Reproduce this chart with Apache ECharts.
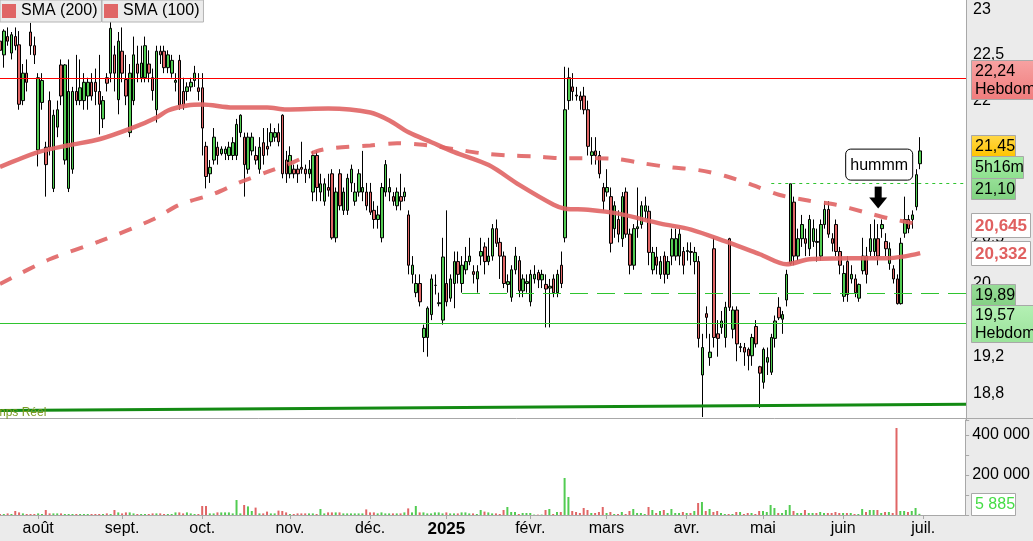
<!DOCTYPE html>
<html><head><meta charset="utf-8">
<script src="https://cdn.jsdelivr.net/npm/echarts@6/dist/echarts.min.js"></script>
<style>html,body{margin:0;padding:0;background:#ebebeb}#c{width:1033px;height:541px}</style>
</head><body><div id="c"></div>
<script>
const FONT = '"Liberation Sans", Arial, sans-serif';

// ---------- categories (trading days) ----------
const holidays = ['2024-12-25','2024-12-26','2025-01-01','2025-04-18','2025-04-21','2025-05-01'];
const slotCount = 254;
const categories = [];
(function(){
  const d = new Date(Date.UTC(2024, 6, 18));
  while (categories.length < slotCount) {
    const wd = d.getUTCDay(), s = d.toISOString().slice(0, 10);
    if (wd !== 0 && wd !== 6 && holidays.indexOf(s) < 0) categories.push(s);
    d.setUTCDate(d.getUTCDate() + 1);
  }
})();
const monthNames = ['janv.','févr.','mars','avr.','mai','juin','juil.','août','sept.','oct.','nov.','déc.'];

// ---------- data: [open, close, low, high] ----------
const ohlc = [
[22.65,22.55,22.5,22.7],[22.5,22.76,22.36,22.78],[22.7,22.65,22.6,22.8],[22.52,22.72,22.45,22.75],[22.7,22.6,22.55,22.8],
[22.61,21.96,21.9,22.76],[22.0,22.3,21.95,22.4],[22.3,22.2,22.1,22.45],[22.75,22.6,22.5,22.85],[22.6,22.5,22.4,22.7],
[21.46,22.25,21.28,22.3],[21.98,22.22,21.9,22.3],[21.49,21.3,20.95,21.55],[22.0,21.49,21.4,22.1],[21.04,21.84,21.0,21.9],
[21.71,21.9,21.6,22.0],[22.39,22.05,21.95,22.45],[21.35,22.39,21.3,22.4],[21.04,22.1,21.0,22.45],[21.25,22.1,21.2,22.15],
[22.1,22.0,21.95,22.5],[22.0,22.14,21.95,22.45],[22.0,22.2,21.9,22.3],[22.05,22.2,21.9,22.25],[22.2,22.05,22.0,22.3],
[22.2,22.1,21.95,22.35],[22.1,21.96,21.63,22.5],[21.8,22.0,21.7,22.05],[22.25,22.19,22.1,22.3],[22.3,22.79,22.2,23.06],
[22.5,22.3,22.1,22.6],[22.01,22.65,21.85,22.75],
[22.54,22.3,22.2,22.8],[22.23,22.05,21.95,22.5],[21.65,22.3,21.6,22.4],[22.0,22.5,21.95,22.7],[22.4,22.3,22.2,22.6],
[22.25,22.41,22.2,22.6],[22.25,22.6,22.2,22.7],[22.4,22.3,22.2,22.55],[22.25,22.11,22.0,22.35],[21.9,22.54,21.76,22.6],
[22.54,22.5,22.4,22.6],[22.54,22.36,22.3,22.6],[22.36,22.5,22.3,22.55],[22.3,22.44,22.25,22.5],[22.2,22.22,22.1,22.3],
[22.44,21.95,21.9,22.5],[22.1,21.95,21.9,22.25],[22.1,22.15,22.0,22.2],[22.15,22.2,22.1,22.25],[22.22,22.3,22.15,22.38],
[22.14,22.1,22.0,22.3],
[22.14,21.7,21.4,22.3],[21.5,21.17,21.04,21.55],[21.2,21.27,21.1,21.35],[21.35,21.6,21.3,21.7],[21.49,21.4,21.3,21.55],
[21.42,21.47,21.4,21.5],[21.42,21.47,21.35,21.5],[21.4,21.49,21.35,21.55],[21.4,21.54,21.35,21.6],[21.4,21.74,21.35,21.8],
[21.65,21.84,21.6,21.85],[21.6,21.3,20.95,21.65],[21.25,21.6,21.2,21.65],[21.45,21.6,21.4,21.65],[21.4,21.35,21.3,21.5],
[21.25,21.49,21.2,21.6],[21.54,21.4,21.3,21.7],[21.5,21.47,21.4,21.7],[21.55,21.65,21.5,21.75],[21.6,21.65,21.55,21.7],
[21.65,21.55,21.5,21.75],[21.84,21.2,21.15,21.85],[21.35,21.2,21.1,21.45],
[21.2,21.4,21.15,21.5],[21.25,21.2,21.15,21.3],[21.25,21.2,21.1,21.3],[21.27,21.25,21.2,21.55],[21.25,21.2,21.1,21.3],
[21.2,21.25,21.15,21.35],[21.0,21.4,20.9,21.45],[21.4,21.05,20.9,21.45],[21.0,21.09,20.9,21.2],[20.9,21.09,20.85,21.15],
[21.05,21.02,20.95,21.2],[21.2,20.5,20.48,21.25],[20.5,21.0,20.45,21.05],[21.2,20.85,20.8,21.25],[20.8,21.0,20.75,21.05],
[20.8,21.15,20.75,21.2],[21.1,21.25,21.0,21.3],[20.9,21.0,20.85,21.1],[21.0,21.2,20.95,21.25],[21.0,21.05,20.9,21.45],
[21.0,20.85,20.8,21.1],
[21.0,20.78,20.75,21.1],[20.8,20.7,20.6,20.9],[20.7,20.75,20.6,20.85],[20.5,21.05,20.45,21.1],[21.0,21.3,20.95,21.35],
[21.0,21.05,20.9,21.15],[20.95,20.9,20.85,21.0],[20.85,21.0,20.8,21.05],[20.95,20.9,20.8,21.2],[20.95,21.0,20.9,21.05],
[20.75,20.2,20.1,20.8],[20.1,20.2,20.0,20.3],[19.9,20.0,19.85,20.1],[20.0,19.8,19.75,20.1],[19.41,19.51,19.25,19.55],
[19.41,19.73,19.2,19.75],[19.66,20.05,19.6,20.1],[19.98,19.98,19.88,20.1],[19.78,19.79,19.75,19.9],[19.6,20.29,19.55,20.5],
[20.0,19.8,19.75,20.8],[19.84,20.05,19.8,20.1],[20.0,20.24,19.73,20.35],[20.24,20.1,20.0,20.35],[20.0,20.2,19.9,20.3],
[20.15,20.24,20.1,20.4],[20.24,20.3,20.2,20.5],[20.13,20.1,20.0,20.2],[20.05,20.13,19.9,20.2],[20.3,20.35,20.2,20.5],
[20.4,20.24,20.1,20.45],[20.24,20.3,20.2,20.5],[20.3,20.6,20.25,20.65],[20.6,20.44,20.4,20.7],[20.45,20.3,20.05,20.5],
[20.3,20.0,19.95,20.35],[19.99,20.02,19.9,20.1],[19.85,20.15,19.8,20.2],[20.15,20.3,20.1,20.4],[20.25,19.92,19.85,20.3],
[19.92,20.05,19.85,20.1],[20.0,20.02,19.9,20.1],
[19.8,20.1,19.75,20.15],[20.05,20.1,20.0,20.2],[20.12,20.04,19.95,20.15],[20.04,20.1,19.95,20.15],[19.99,19.94,19.52,20.1],
[19.95,19.97,19.52,20.05],[20.05,19.9,19.85,20.1],[19.9,20.1,19.85,20.15],[20.2,20.0,19.95,20.35],[20.5,21.9,20.45,22.37],
[22.0,22.25,21.9,22.36],[22.15,22.1,22.0,22.3],[22.06,22.05,22.0,22.15],[22.05,22.0,21.9,22.1],[22.05,21.9,21.85,22.15],
[21.9,21.5,21.4,22.0],[21.4,21.44,21.3,21.6],[21.45,21.4,21.3,21.6],[21.4,21.2,21.15,21.45],[21.05,20.9,20.8,21.1],
[21.0,21.05,20.95,21.25],[20.95,20.44,20.34,21.05],[20.6,20.85,20.5,20.9],[20.7,20.54,20.45,20.8],[20.49,20.95,20.4,21.0],
[21.0,20.54,20.5,21.05],[20.54,20.2,20.1,20.6],[20.2,20.6,20.15,20.65],[20.6,20.62,20.5,21.05],[20.645,20.85,20.6,20.9],
[20.79,20.85,20.7,20.95],[20.79,20.34,20.2,20.85],[20.15,20.34,20.1,20.4],[20.29,20.2,20.1,20.4],[20.1,20.24,20.05,20.3],
[20.3,20.1,20.0,20.35],[20.1,20.24,20.05,20.3],[20.3,20.49,20.2,20.6],[20.3,20.49,20.25,20.6],[20.3,20.54,20.2,20.6],
[20.35,20.2,20.1,20.4],[20.35,20.36,20.25,20.45],[20.35,20.34,20.2,20.45],[20.24,20.34,20.1,20.4],[20.24,19.4,19.3,20.3],
[19.0,19.3,18.54,19.45],[19.67,19.63,19.4,19.75],[19.19,19.25,19.1,19.45],[20.38,19.41,19.3,20.5],[19.45,19.4,19.2,19.6],
[19.52,19.59,19.45,19.7],[19.41,19.74,19.3,19.8],[20.49,19.74,19.7,20.5],[19.5,19.71,19.4,19.75],[19.71,19.34,19.15,19.75],
[19.3,19.31,19.25,19.35],[19.3,19.25,19.1,19.35],[19.28,19.21,19.05,19.3],[19.21,19.41,19.1,19.45],[19.53,19.34,19.3,19.6],
[19.09,19.02,18.64,19.1],[18.92,19.28,18.85,19.3],[19.14,19.19,19.0,19.3],[19.03,19.41,19.0,19.45],[19.4,19.59,19.3,19.65],
[19.74,19.625,19.6,19.85],[19.61,19.66,19.45,19.7],[19.82,20.1,19.75,20.15],[20.22,21.09,20.2,21.09],[20.89,20.3,20.2,20.95],
[20.3,20.49,20.25,20.6],[20.49,20.645,20.4,20.75],[20.49,20.44,20.3,20.6],[20.38,20.7,20.3,20.75],[20.46,20.6,20.4,20.7],
[20.46,20.45,20.24,20.6],[20.3,20.645,20.25,20.7],[20.645,20.81,20.6,20.9],[20.81,20.54,20.5,20.9],[20.49,20.44,20.35,20.55],
[20.645,20.35,20.3,20.7],[20.35,20.2,20.1,20.4],[19.86,20.11,19.8,20.2],[20.24,19.88,19.8,20.3],[20.05,20.1,20.0,20.2],
[20.05,19.9,19.85,20.1],[19.84,19.99,19.8,20.0],[20.14,20.3,20.1,20.5],[20.3,20.1,20.0,20.4],[20.35,20.49,20.3,20.65],
[20.35,20.49,20.3,20.7],[20.49,20.3,20.2,20.65],[20.6,20.645,20.5,20.7],[20.46,20.38,20.3,20.55],[20.22,20.38,20.15,20.45],
[20.16,20.05,20.0,20.2],[20.05,19.78,19.77,20.1],[19.78,20.44,19.77,20.5],[20.55,20.7,20.5,20.95],[20.7,20.6,20.55,20.75],
[20.7,20.75,20.6,20.8],[20.84,21.19,20.8,21.25],[21.31,21.45,21.25,21.6]
];

const volume = [
5000,5000,8000,5000,20000,13000,8000,5000,5000,5000,
8000,5000,25000,8000,8000,8000,8000,5000,5000,5000,
5000,5000,5000,5000,5000,5000,5000,5000,8000,5000,
25000,13000,8000,13000,13000,8000,5000,5000,5000,5000,
8000,8000,8000,5000,5000,5000,13000,13000,8000,13000,
8000,5000,5000,45000,45000,8000,8000,13000,13000,13000,
13000,8000,75000,8000,50000,43000,20000,37000,8000,8000,
17000,8000,8000,22000,20000,13000,5000,5000,8000,8000,
8000,8000,8000,5000,30000,8000,13000,13000,13000,13000,
8000,8000,8000,8000,8000,8000,28000,13000,13000,8000,
13000,8000,8000,8000,8000,8000,13000,33000,13000,45000,
13000,13000,8000,8000,13000,13000,8000,13000,8000,8000,
8000,13000,13000,8000,8000,5000,25000,17000,13000,8000,
8000,5000,25000,40000,15000,15000,5000,10000,10000,10000,
2000,2000,2000,25000,30000,5000,15000,15000,185000,90000,
20000,15000,10000,35000,25000,10000,10000,15000,40000,10000,
15000,5000,5000,15000,5000,20000,30000,10000,10000,5000,
40000,25000,10000,20000,25000,10000,30000,10000,10000,15000,
10000,10000,20000,60000,65000,20000,30000,15000,20000,10000,
5000,5000,5000,15000,15000,5000,10000,10000,5000,20000,
20000,15000,50000,35000,10000,10000,25000,50000,20000,10000,
10000,25000,10000,10000,10000,15000,10000,10000,10000,15000,
10000,10000,10000,10000,5000,5000,30000,15000,25000,25000,
25000,10000,15000,15000,10000,435000,20000,20000,15000,20000,
35000,5885
];

// moving averages: [day index, value]
const smaFast = [[0,21.274],[10,21.436],[18,21.512],[26,21.577],[35,21.707],[41,21.816],[44,21.892],[49,21.946],[53,21.957],
[61,21.924],[70,21.924],[75,21.903],[86,21.913],[97,21.87],[102,21.783],[107,21.653],[113,21.545],[119,21.436],[128,21.295],
[136,21.078],[145,20.861],[148,20.818],[154,20.807],[162,20.764],[173,20.655],[181,20.59],[190,20.46],[199,20.32],[206,20.21],
[212,20.265],[223,20.276],[232,20.276],[237,20.297],[241,20.332]];
const smaSlow = [[0,19.994],[13,20.265],[26,20.46],[40,20.70],[47,20.861],[56,20.98],[63,21.11],[70,21.22],[77,21.33],[83,21.447],
[87,21.48],[97,21.51],[104,21.534],[112,21.51],[119,21.47],[126,21.425],[133,21.40],[140,21.39],[147,21.37],[155,21.37],
[162,21.36],[168,21.317],[175,21.274],[183,21.24],[190,21.176],[197,21.078],[204,20.97],[212,20.905],[219,20.861],[226,20.785],
[233,20.71],[241,20.645]];

const priceTickLabels = [23, 22.5, 22, 21.5, 21, 20.5, 20, 19.5, 19.2, 18.8];
const weeklyHigh = 22.24, weeklyLow = 19.57, supportLevel = 19.89, resistLevel = 21.10;
const supportStart = 121, resistStart = 202;
const trendLine = [18.611, 18.681];
const lastPrice = 21.45, lastVolume = 5885, smaFastLast = 20.332, smaSlowLast = 20.645;
const noteIndex = 230, notePrice = 21.30;

const UP = '#52cc52', DOWN = '#e06666', LINE_GREEN = '#2fc42f';

const chart = echarts.init(document.getElementById('c'), null, {renderer: 'canvas'});
const last = slotCount - 1;

function hLine(x0, v0, x1, v1, style) {
  return [{coord: [x0, v0], lineStyle: style}, {coord: [x1, v1], lineStyle: style}];
}

const option = {
  animation: false,
  backgroundColor: '#ebebeb',
  legend: [
    {data: ['SMA (200)'], left: 0, top: 0, orient: 'horizontal', icon: 'rect', itemWidth: 14, itemHeight: 14,
     padding: [3, 4, 3, 2], backgroundColor: '#ececec', borderColor: '#b4b4b4', borderWidth: 1, borderRadius: 0,
     itemStyle: {borderWidth: 0}, textStyle: {fontFamily: FONT, fontSize: 16, color: '#000'}, selectedMode: false},
    {data: ['SMA (100)'], left: 102, top: 0, orient: 'horizontal', icon: 'rect', itemWidth: 14, itemHeight: 14,
     padding: [3, 4, 3, 2], backgroundColor: '#ececec', borderColor: '#b4b4b4', borderWidth: 1, borderRadius: 0,
     itemStyle: {borderWidth: 0}, textStyle: {fontFamily: FONT, fontSize: 16, color: '#000'}, selectedMode: false}
  ],
  grid: [
    {left: 0, right: 67, top: -3.4, height: 424.1, show: true, backgroundColor: '#fff', borderWidth: 0},
    {left: 0, right: 67, top: 420, height: 95, show: true, backgroundColor: '#fff', borderWidth: 0}
  ],
  xAxis: [
    {type: 'category', gridIndex: 0, data: categories, boundaryGap: false, show: false},
    {type: 'category', gridIndex: 1, data: categories, boundaryGap: false,
     axisLine: {lineStyle: {color: '#a8a8a8'}},
     axisTick: {show: true, length: 4, interval: (i) => i > 0 && categories[i].slice(5,7) !== categories[i-1].slice(5,7), lineStyle: {color: '#a8a8a8'}},
     axisLabel: {interval: (i) => i > 0 && categories[i].slice(5,7) !== categories[i-1].slice(5,7), margin: 6,
       fontFamily: FONT, fontSize: 16, color: '#000',
       formatter: (val) => { const m = +val.slice(5,7) - 1; return m === 0 ? '{b|' + val.slice(0,4) + '}' : monthNames[m]; },
       rich: {b: {fontFamily: FONT, fontSize: 17, fontWeight: 'bold', color: '#000'}}},
     splitLine: {show: false}}
  ],
  yAxis: [
    {type: 'value', gridIndex: 0, position: 'right', min: 18.5, max: 23.1, interval: 0.1, scale: true,
     axisLine: {show: true, lineStyle: {color: '#a8a8a8'}}, axisTick: {show: false}, splitLine: {show: false},
     axisLabel: {margin: 7, fontFamily: FONT, fontSize: 16, color: '#000',
       formatter: (v) => { for (const t of priceTickLabels) { if (Math.abs(t - v) < 1e-4) return String(t).replace('.', ','); } return ''; }}},
    {type: 'value', gridIndex: 1, position: 'right', min: 0, max: 475000, interval: 100000,
     axisLine: {show: true, lineStyle: {color: '#a8a8a8'}}, axisTick: {show: true, length: 4, lineStyle: {color: '#a8a8a8'}},
     splitLine: {show: false},
     axisLabel: {margin: 7, fontFamily: FONT, fontSize: 16, color: '#000',
       formatter: (v) => (v > 0 && v % 200000 === 0) ? String(v).replace(/\B(?=(\d{3})+(?!\d))/g, ' ') : ''}}
  ],
  series: [
    {name: 'prix', type: 'candlestick', xAxisIndex: 0, yAxisIndex: 0, data: ohlc, barWidth: 3,
     itemStyle: {color: UP, color0: DOWN, borderColor: '#000', borderColor0: '#000', borderWidth: 1},
     markLine: {silent: true, symbol: ['none', 'none'], animation: false, label: {show: false},
       data: [
         hLine(0, weeklyHigh, last, weeklyHigh, {color: '#ff0000', width: 1, type: 'solid'}),
         hLine(0, weeklyLow, last, weeklyLow, {color: LINE_GREEN, width: 1, type: 'solid'}),
         hLine(supportStart, supportLevel, last, supportLevel, {color: LINE_GREEN, width: 1, type: [18, 9]}),
         hLine(resistStart, resistLevel, last, resistLevel, {color: LINE_GREEN, width: 1, type: [3, 4]}),
         hLine(0, trendLine[0], last, trendLine[1], {color: '#138a13', width: 3, type: 'solid'})
       ]}},
    {name: 'SMA (100)', type: 'line', xAxisIndex: 0, yAxisIndex: 0, data: smaFast, smooth: 0.3, symbol: 'none',
     color: '#e06666', lineStyle: {color: 'rgba(224,100,100,0.9)', width: 4.5}, z: 3},
    {name: 'SMA (200)', type: 'line', xAxisIndex: 0, yAxisIndex: 0, data: smaSlow, smooth: 0.3, symbol: 'none',
     color: '#e06666', lineStyle: {color: 'rgba(224,100,100,0.9)', width: 4, type: [13, 13], cap: 'butt'}, z: 3},
    {name: 'volume', type: 'bar', xAxisIndex: 1, yAxisIndex: 1, barWidth: 2,
     data: volume.map((v, i) => ({value: v, itemStyle: {color: ohlc[i][1] >= ohlc[i][0] ? UP : DOWN}}))}
  ]
};
chart.setOption(option);

// ---------- overlays positioned through the axes ----------
const yP = v => chart.convertToPixel({yAxisIndex: 0}, v);
const yV = v => chart.convertToPixel({yAxisIndex: 1}, v);
const xP = i => chart.convertToPixel({xAxisIndex: 0}, categories[i]);
const grad = (a, b) => new echarts.graphic.LinearGradient(0, 0, 0, 1, [{offset: 0, color: a}, {offset: 1, color: b}]);

function box(x, top, w, h, fill, text, color, font) {
  const t = Math.round(top);
  return [
    {type: 'rect', z: 100, shape: {x: x + 0.5, y: t + 0.5, width: w, height: h}, style: {fill: fill, stroke: '#a8a8a8', lineWidth: 1}},
    {type: 'text', z: 101, x: x + 4, y: t + h / 2 + 1, style: {text: text, fill: color || '#000', font: font || ('16px ' + FONT), verticalAlign: 'middle', lineHeight: 18}}
  ];
}
const BX = 971;
const boldRed = 'bold 17px ' + FONT;
const py = yP(lastPrice);
let els = [];
els = els.concat(box(BX, yP(weeklyHigh) - 19, 70, 39, grad('#f7a2a2', '#f07c7c'), '22,24\nHebdoma'));
els = els.concat(box(BX, py - 16, 44, 21, grad('#ffd84a', '#ffc400'), '21,45'));
els = els.concat(box(BX, py + 5, 52, 22, grad('#a6eea6', '#8ee08e'), '5h16m'));
els = els.concat(box(BX, py + 27, 44, 21, grad('#97e097', '#80d280'), '21,10'));
els = els.concat(box(BX, yP(smaSlowLast) - 12, 59, 24, '#ffffff', '20,645', '#e06060', boldRed));
els = els.concat(box(BX, yP(smaFastLast) - 12, 59, 24, '#ffffff', '20,332', '#e06060', boldRed));
els = els.concat(box(BX, yP(supportLevel) - 10, 44, 21, grad('#98dc98', '#84d084'), '19,89'));
els = els.concat(box(BX, yP(weeklyLow) - 18, 70, 37, grad('#b4f0b4', '#9ae29a'), '19,57\nHebdoma'));
els = els.concat(box(BX, yV(lastVolume) - 21, 44, 22, '#ffffff', '5 885', '#45dd45', '16px ' + FONT));

// separator between panels
els.push({type: 'line', z: 90, shape: {x1: 0, y1: 418.5, x2: 1033, y2: 418.5}, style: {stroke: '#a8a8a8', lineWidth: 1}});
// "Temps Réel" tag
els.push({type: 'text', z: 95, x: -17, y: 413, style: {text: 'Temps Réel', fill: '#7a9a22', font: '12px ' + FONT, verticalAlign: 'middle'}});

// annotation "hummm" + arrow
const nx = xP(noteIndex), ny = yP(notePrice);
els.push({type: 'rect', z: 100, shape: {x: nx - 32.5, y: ny - 15.5, width: 67, height: 31, r: 5}, style: {fill: '#fff', stroke: '#000', lineWidth: 1}});
els.push({type: 'text', z: 101, x: nx + 1, y: ny + 1, style: {text: 'hummm', fill: '#000', font: '16px ' + FONT, align: 'center', verticalAlign: 'middle'}});
els.push({type: 'rect', z: 100, shape: {x: nx - 3.5, y: ny + 22, width: 7, height: 12}, style: {fill: '#000'}});
els.push({type: 'polygon', z: 100, shape: {points: [[nx - 9, ny + 33], [nx + 9, ny + 33], [nx, ny + 44]]}, style: {fill: '#000'}});

chart.setOption({graphic: {elements: els}});
</script></body></html>
